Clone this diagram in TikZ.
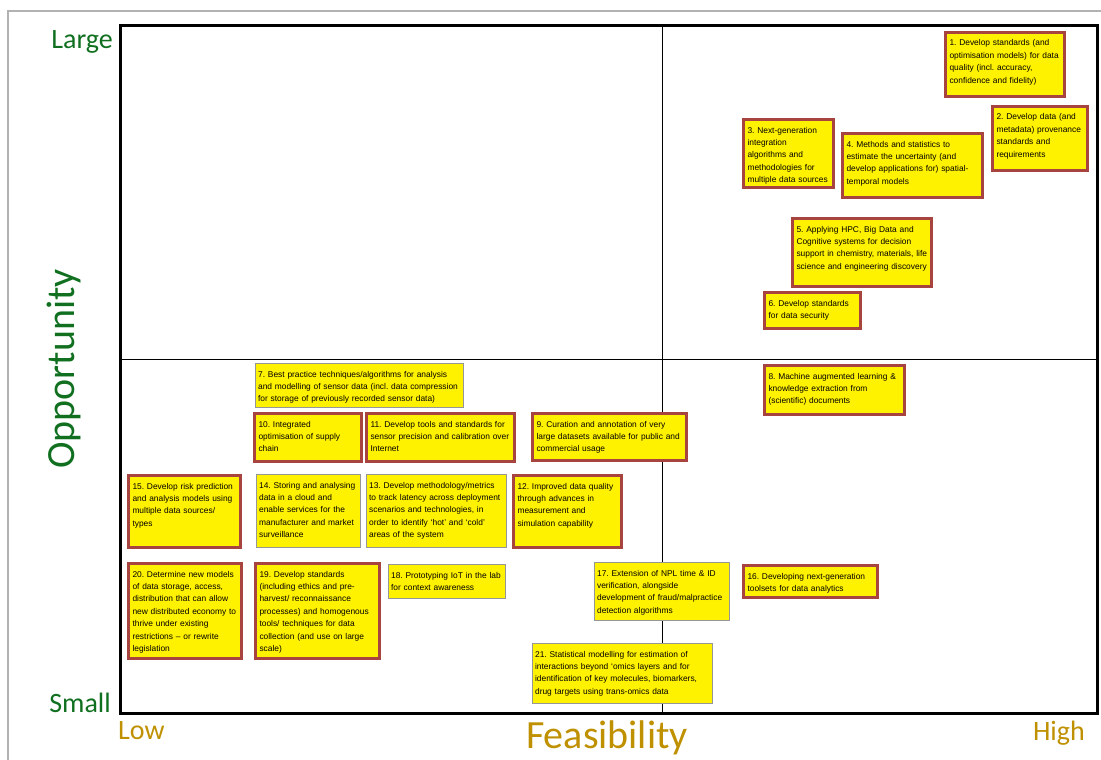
\documentclass[tikz,border=0pt]{standalone}
\usepackage{fontspec}
\setmainfont{Liberation Sans}
\newfontfamily\axisfont{Carlito}
\usepackage{tikz}
\usetikzlibrary{positioning}
\definecolor{boxRed}{RGB}{168,68,64}
\definecolor{boxGray}{RGB}{150,150,150}
\definecolor{axisGreen}{RGB}{16,112,32}
\definecolor{axisGold}{RGB}{191,144,0}
\colorlet{frameGray}{black!30}
\frenchspacing
\hyphenpenalty=10000
\tikzset{
  item/.style={fill=yellow,anchor=north west,align=left,inner xsep=4pt,inner ysep=3pt,
    text height=10.5pt,font=\fontsize{8.4}{12.4}\selectfont},
  redbox/.style={item,draw=boxRed,line width=3pt},
  graybox/.style={item,draw=boxGray,line width=1.2pt,inner xsep=2.5pt},
  axislab/.style={font=\axisfont\fontsize{28}{32}\selectfont,inner sep=0pt},
  axistitle/.style={font=\axisfont\fontsize{40}{46}\selectfont,inner sep=0pt},
}

\begin{document}
\begin{tikzpicture}[x=1pt,y=-1pt]
  \useasboundingbox (0,0) rectangle (1101,760);
  \draw[frameGray,line width=1.2pt] (8,760) -- (8,11) -- (1101,11);
  \coordinate (nw) at (120,26);
  \coordinate (se) at (1097,713);
  \coordinate (midL) at (120,359);
  \coordinate (midR) at (1097,359);
  \coordinate (midT) at (662,26);
  \coordinate (midB) at (662,713);
  \draw[line width=1pt] (midL) -- (midR);
  \draw[line width=1pt] (midT) -- (midB);
  \draw[line width=3pt] (nw) rectangle (se);

  \node[axislab,text=axisGreen,anchor=base east] (large) at (113,49) {Large};
  \node[axislab,text=axisGreen,anchor=base east] (small) at (111,712) {Small};
  \node[axistitle,text=axisGreen,rotate=90,anchor=base] (opp) at (74,369) {Opportunity};
  \node[axislab,text=axisGold,anchor=base west] (low) at (118,739) {Low};
  \node[axislab,text=axisGold,anchor=base east] (high) at (1085,740) {High};
  \node[axistitle,text=axisGold,anchor=base] (feas) at (607,748) {Feasibility};

  \node[redbox,text width=111pt,text depth=47.5pt] (t1) at (944,31)
    {1. Develop standards (and\\optimisation models) for data\\quality (incl. accuracy,\\confidence and fidelity)};
  \node[redbox,text width=87pt,text depth=47.5pt] (t2) at (991,105)
    {2. Develop data (and\\metadata) provenance\\standards and\\requirements};
  \node[redbox,text width=82pt,text depth=51.5pt] (t3) at (742,118)
    {3. Next-generation\\integration\\algorithms and\\methodologies for\\multiple data sources};
  \node[redbox,text width=132pt,text depth=47.5pt] (t4) at (841,132)
    {4. Methods and statistics to\\estimate the uncertainty (and\\develop applications for) spatial-\\temporal models};
  \node[redbox,text width=131pt,text depth=51.5pt] (t5) at (791,217)
    {5. Applying HPC, Big Data and\\Cognitive systems for decision\\support in chemistry, materials, life\\science and engineering discovery};
  \node[redbox,text width=88pt,text depth=19.5pt] (t6) at (763,291)
    {6. Develop standards\\for data security};
  \node[graybox,text width=203pt,text depth=27.3pt] (t7) at (255,363)
    {7. Best practice techniques/algorithms for analysis\\and modelling of sensor data (incl. data compression\\for storage of previously recorded sensor data)};
  \node[redbox,text width=132pt,text depth=32.5pt] (t8) at (763,364)
    {8. Machine augmented learning \&\\knowledge extraction from\\(scientific) documents};
  \node[redbox,text width=146pt,text depth=30.5pt] (t9) at (531,412)
    {9. Curation and annotation of very\\large datasets available for public and\\commercial usage};
  \node[redbox,text width=99pt,text depth=31.5pt] (t10) at (253,412)
    {10. Integrated\\optimisation of supply\\chain};
  \node[redbox,text width=140pt,text depth=31.5pt] (t11) at (365,412)
    {11. Develop tools and standards for\\sensor precision and calibration over\\Internet};
  \node[redbox,text width=100pt,text depth=55.5pt] (t12) at (512,474)
    {12. Improved data quality\\through advances in\\measurement and\\simulation capability};
  \node[graybox,text width=135pt,text depth=56.3pt] (t13) at (366,474)
    {13. Develop methodology/metrics\\to track latency across deployment\\scenarios and technologies, in\\order to identify ‘hot’ and ‘cold’\\areas of the system};
  \node[graybox,text width=99pt,text depth=56.3pt] (t14) at (256,474)
    {14. Storing and analysing\\data in a cloud and\\enable services for the\\manufacturer and market\\surveillance};
  \node[redbox,text width=104pt,text depth=55.5pt] (t15) at (127,474)
    {15. Develop risk prediction\\and analysis models using\\multiple data sources/\\types};
  \node[redbox,text width=126pt,text depth=15.5pt] (t16) at (742,564)
    {16. Developing next-generation\\toolsets for data analytics};
  \node[graybox,text width=130pt,text depth=41.3pt] (t17) at (594,562)
    {17. Extension of NPL time \& ID\\verification, alongside\\development of fraud/malpractice\\detection algorithms};
  \node[graybox,text width=112pt,text depth=17.3pt] (t18) at (388,564)
    {18. Prototyping IoT in the lab\\for context awareness};
  \node[redbox,text width=116pt,text depth=78.5pt] (t19) at (254,562)
    {19. Develop standards\\(including ethics and pre-\\harvest/ reconnaissance\\processes) and homogenous\\tools/ techniques for data\\collection (and use on large\\scale)};
  \node[redbox,text width=105pt,text depth=78.5pt] (t20) at (127,562)
    {20. Determine new models\\of data storage, access,\\distribution that can allow\\new distributed economy to\\thrive under existing\\restrictions – or rewrite\\legislation};
  \node[graybox,text width=175pt,text depth=43.3pt] (t21) at (532,643)
    {21. Statistical modelling for estimation of\\interactions beyond ‘omics layers and for\\identification of key molecules, biomarkers,\\drug targets using trans-omics data};
\end{tikzpicture}
\end{document}
